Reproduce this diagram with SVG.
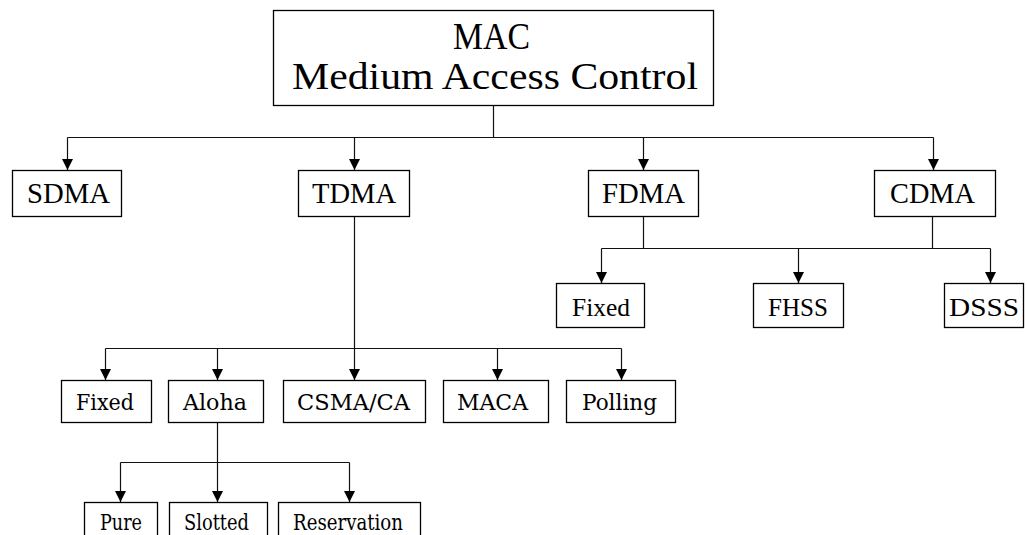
<svg xmlns="http://www.w3.org/2000/svg" width="1027" height="535" viewBox="0 0 1027 535">
<style>
.box{fill:#fff;stroke:#000;stroke-width:1.3}
.ln{fill:none;stroke:#111;stroke-width:1.2}
.ar{fill:none;stroke:#111;stroke-width:1.2;marker-end:url(#ah)}
.t1{font-family:"Liberation Serif",serif;fill:#000;text-anchor:middle}
.t2{font-family:"DejaVu Serif",serif;fill:#000;text-anchor:middle;font-weight:300}
</style>
<defs>
<marker id="ah" markerUnits="userSpaceOnUse" markerWidth="11" markerHeight="12" refX="11" refY="6" orient="auto" viewBox="0 0 11 12">
<path d="M0,0.5 L11,6 L0,11.5 z" fill="#000"/>
</marker>
</defs>
<g id="connectors">
<path class="ln" d="M493.5,106 V137.5 M67.5,137.5 H933.5"/>
<path class="ar" d="M67.5,137.5 V170"/>
<path class="ar" d="M354.5,137.5 V170"/>
<path class="ar" d="M643.5,137.5 V170"/>
<path class="ar" d="M933.5,137.5 V170"/>
<path class="ln" d="M643.5,217 V248.5 M932.5,217 V248.5 M601.5,248.5 H990.5"/>
<path class="ar" d="M601.5,248.5 V283"/>
<path class="ar" d="M798.5,248.5 V283"/>
<path class="ar" d="M990.5,248.5 V283"/>
<path class="ln" d="M354.5,217 V348.5 M105.5,348.5 H621.5"/>
<path class="ar" d="M105.5,348.5 V380"/>
<path class="ar" d="M217.5,348.5 V380"/>
<path class="ar" d="M354.5,348.5 V380"/>
<path class="ar" d="M497.5,348.5 V380"/>
<path class="ar" d="M621.5,348.5 V380"/>
<path class="ln" d="M217.5,423 V462.5 M120.5,462.5 H349.5"/>
<path class="ar" d="M120.5,462.5 V502"/>
<path class="ar" d="M217.5,462.5 V502"/>
<path class="ar" d="M349.5,462.5 V502"/>
</g>
<g id="mac">
<rect class="box" x="273.5" y="10.5" width="440" height="95"/>
<text class="t1" x="491.5" y="49" font-size="37" textLength="77" lengthAdjust="spacingAndGlyphs">MAC</text>
<text class="t1" x="495" y="89" font-size="38" textLength="406" lengthAdjust="spacingAndGlyphs">Medium Access Control</text>
</g>
<g id="sdma"><rect class="box" x="12.5" y="170.5" width="109" height="46"/><text class="t1" x="68.5" y="203" font-size="29" textLength="83" lengthAdjust="spacingAndGlyphs">SDMA</text></g>
<g id="tdma"><rect class="box" x="298.5" y="170.5" width="111" height="46"/><text class="t1" x="354" y="203" font-size="29" textLength="84" lengthAdjust="spacingAndGlyphs">TDMA</text></g>
<g id="fdma"><rect class="box" x="588.5" y="170.5" width="110" height="46"/><text class="t1" x="643.5" y="203" font-size="29" textLength="83" lengthAdjust="spacingAndGlyphs">FDMA</text></g>
<g id="cdma"><rect class="box" x="874.5" y="170.5" width="121" height="46"/><text class="t1" x="932.5" y="203" font-size="29" textLength="85" lengthAdjust="spacingAndGlyphs">CDMA</text></g>
<g id="fixed-f"><rect class="box" x="556.5" y="283.5" width="88" height="44"/><text class="t1" x="601" y="316" font-size="26" textLength="58" lengthAdjust="spacingAndGlyphs">Fixed</text></g>
<g id="fhss"><rect class="box" x="753.5" y="283.5" width="90" height="44"/><text class="t1" x="798" y="316" font-size="26" textLength="60" lengthAdjust="spacingAndGlyphs">FHSS</text></g>
<g id="dsss"><rect class="box" x="944.5" y="283.5" width="79" height="44"/><text class="t1" x="984" y="316" font-size="26" textLength="70" lengthAdjust="spacingAndGlyphs">DSSS</text></g>
<g id="fixed-t"><rect class="box" x="61.5" y="380.5" width="90" height="42"/><text class="t2" x="105" y="410" font-size="23" textLength="58" lengthAdjust="spacingAndGlyphs">Fixed</text></g>
<g id="aloha"><rect class="box" x="168.5" y="380.5" width="95" height="42"/><text class="t2" x="215" y="410" font-size="23" textLength="64" lengthAdjust="spacingAndGlyphs">Aloha</text></g>
<g id="csma"><rect class="box" x="283.5" y="380.5" width="142" height="42"/><text class="t2" x="353.5" y="410" font-size="23" textLength="113" lengthAdjust="spacingAndGlyphs">CSMA/CA</text></g>
<g id="maca"><rect class="box" x="443.5" y="380.5" width="105" height="42"/><text class="t2" x="492.5" y="410" font-size="23" textLength="71" lengthAdjust="spacingAndGlyphs">MACA</text></g>
<g id="polling"><rect class="box" x="566.5" y="380.5" width="109" height="42"/><text class="t2" x="619.5" y="410" font-size="23" textLength="75" lengthAdjust="spacingAndGlyphs">Polling</text></g>
<g id="pure"><rect class="box" x="84.5" y="502.5" width="73" height="40"/><text class="t2" x="121" y="530" font-size="23" textLength="42" lengthAdjust="spacingAndGlyphs">Pure</text></g>
<g id="slotted"><rect class="box" x="169.5" y="502.5" width="98" height="40"/><text class="t2" x="216.5" y="530" font-size="23" textLength="65" lengthAdjust="spacingAndGlyphs">Slotted</text></g>
<g id="reservation"><rect class="box" x="278.5" y="502.5" width="142" height="40"/><text class="t2" x="348" y="530" font-size="23" textLength="110" lengthAdjust="spacingAndGlyphs">Reservation</text></g>
</svg>
